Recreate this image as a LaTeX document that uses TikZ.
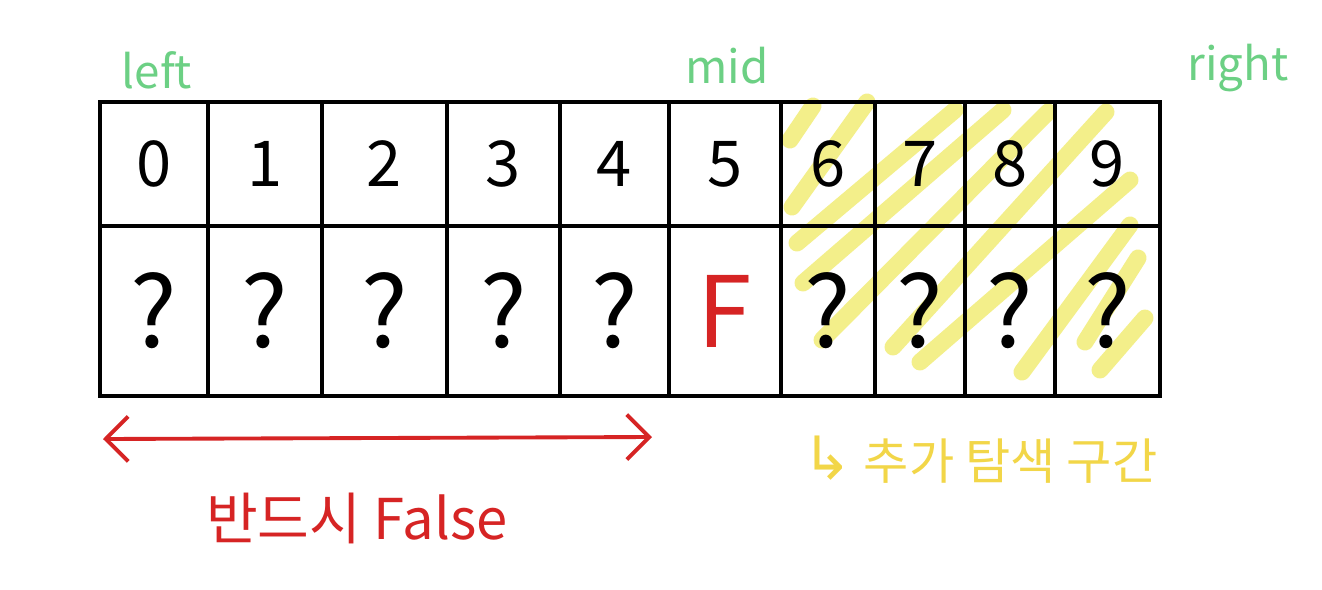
\documentclass[tikz,border=0pt]{standalone}
\usepackage{fontspec}
\setmainfont{Noto Sans CJK KR}
\newfontfamily\arrowfont{DejaVu Sans}
\usetikzlibrary{arrows.meta}
\definecolor{penGreen}{RGB}{108,208,132}
\definecolor{penRed}{RGB}{214,36,36}
\definecolor{penYellow}{RGB}{242,214,72}
\definecolor{markYellow}{RGB}{240,234,100}
\begin{document}
\begin{tikzpicture}[x=0.02cm,y=-0.02cm,>={Straight Barb[length=4.5mm,width=9mm]},cell/.style={draw,line width=2.2pt,inner sep=0pt,outer sep=0pt},pointer/.style={text=penGreen,font=\fontsize{26}{28}\selectfont},hatch/.style={draw=markYellow,opacity=.75,line width=3.4mm,line cap=round}]
\useasboundingbox[fill=white] (0,0) rectangle (1322,589);
\foreach \xa/\ya/\xb/\yb in {790/140/813/106,792/207/867/102,797/243/955/110,803/283/1003/110,822/340/1048/112,893/347/1106/112,920/362/1130/180,1022/372/1130/225,1085/342/1138/258,1100/370/1145/318}
  \draw[hatch] (\xa,\ya) -- (\xb,\yb);
\foreach \l/\r/\n/\v in {100/208/0/?,208/322/1/?,322/447/2/?,447/560/3/?,560/669/4/?,669/781/5/{\textcolor{penRed}{F}},781/875/6/?,875/965/7/?,965/1055/8/?,1055/1160/9/?}{
  \pgfmathsetmacro\w{(\r-\l)*0.02}
  \node[cell,minimum width=\w cm,minimum height=2.48cm,font=\fontsize{36}{38}\selectfont] (idx\n) at ({(\l+\r)/2},164) {\n};
  \node[cell,minimum width=\w cm,minimum height=3.4cm,font=\fontsize{56}{58}\selectfont] (val\n) at ({(\l+\r)/2},311) {\v};
}
\node[pointer] (left) at (157,70) {left};
\node[pointer] (mid) at (727,66) {mid};
\node[pointer] (right) at (1238,68) {right};
\coordinate (fL) at (103,439);
\coordinate (fR) at (652,437);
\draw[penRed,line width=2.2pt,<->] (fL)--(fR);
\node[text=penRed,font=\fontsize{32}{34}\selectfont] (never) at (357,518) {반드시 False};
\node[text=penYellow,font=\fontsize{28}{30}\selectfont] (extra) at (980,460) {{\arrowfont\fontsize{34}{36}\selectfont ↳} 추가 탐색 구간};
\end{tikzpicture}
\end{document}
